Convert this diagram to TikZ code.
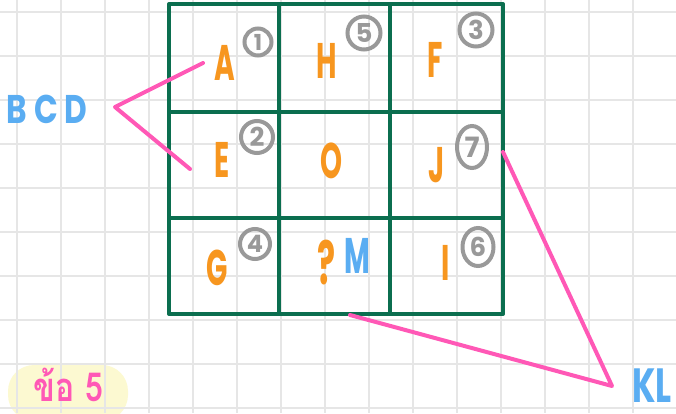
\documentclass[tikz,border=0pt]{standalone}
\usepackage{fontspec}
\setmainfont{Poppins}
\newfontfamily\thaifont[Script=Thai]{Loma}
\usepackage{xcolor}
\usetikzlibrary{calc, shapes.geometric, positioning}

\definecolor{papergray}{HTML}{E6E6E6}
\definecolor{boardgreen}{HTML}{0B6E4F}
\definecolor{inkorange}{HTML}{F7961F}
\definecolor{inkblue}{HTML}{5AADF2}
\definecolor{inkpink}{HTML}{FF58B6}
\definecolor{ringgray}{HTML}{999999}
\definecolor{pillyellow}{HTML}{FAF39A}

\tikzset{
  letter/.style={text=inkorange, inner sep=0pt, xscale=0.56,
    font=\fontsize{50}{50}\selectfont\bfseries},
  bluelabel/.style={text=inkblue, inner sep=0pt,
    font=\fontsize{40}{40}\selectfont\bfseries},
  ring/.style={circle, draw=ringgray, line width=4pt, text=ringgray,
    inner sep=0pt, minimum size=31pt, font=\fontsize{26}{26}\selectfont\bfseries},
  pinkline/.style={draw=inkpink, line width=4pt, line cap=round, line join=round},
}

\begin{document}
\begin{tikzpicture}[x=1pt, y=-1pt]
    \useasboundingbox (0,0) rectangle (676,413);
    \fill[white] (0,0) rectangle (676,413);

    % 1. Label pill (under the paper lines)
    \fill[pillyellow, opacity=0.45, rounded corners=26pt] (8,365) rectangle (128,421);

    % 2. Squared paper
    \foreach \gx in {17,61,...,677} {
        \draw[papergray, line width=1.6pt] (\gx,0) -- (\gx,413);
    }
    \foreach \gy in {12,56,...,413} {
        \draw[papergray, line width=1.6pt] (0,\gy) -- (676,\gy);
    }
    \node[inner sep=0pt, xscale=0.8, text=inkpink,
          font=\thaifont\fontsize{40}{40}\selectfont\bfseries] (task) at (68,385) {ข้อ 5};

    % 3. The 3x3 board
    \draw[boardgreen, line width=4pt, line join=round] (169,4) rectangle (503,314);
    \draw[boardgreen, line width=4pt] (279,4) -- (279,314);
    \draw[boardgreen, line width=4pt] (390,4) -- (390,314);
    \draw[boardgreen, line width=4pt] (169,112) -- (503,112);
    \draw[boardgreen, line width=4pt] (169,218) -- (503,218);

    % 4. Letters in the cells
    \node[letter] (a) at (225,63) {A};
    \node[letter] (h) at (327,61) {H};
    \node[letter] (f) at (435,60) {F};
    \node[letter] (e) at (222,160) {E};
    \node[letter] (o) at (331,161) {O};
    \node[letter] (j) at (437,165) {J};
    \node[letter] (g) at (217,268) {G};
    \node[letter, font=\fontsize{60}{60}\selectfont\bfseries] (q) at (327,263) {?};
    \node[letter, text=inkblue] (m) at (357,256) {M};
    \node[letter] (i) at (446,263) {I};

    % 5. Circled numbers
    \node[ring, minimum size=27pt, font=\fontsize{22}{22}\selectfont\bfseries] (n1) at (258,42) {1};
    \node[ring, minimum size=33pt] (n5) at (364,33) {5};
    \node[ring, minimum size=33pt] (n3) at (476,30) {3};
    \node[ring, minimum size=32pt] (n2) at (257,137) {2};
    \node[ring, ellipse, minimum width=30pt, minimum height=42pt, font=\fontsize{28}{28}\selectfont\bfseries] (n7) at (472,147) {7};
    \node[ring, minimum size=30pt, font=\fontsize{24}{24}\selectfont\bfseries] (n4) at (255,244) {4};
    \node[ring, ellipse, minimum width=31pt, minimum height=38pt] (n6) at (478,247) {6};

    % 6. Outside labels
    \node[bluelabel, xscale=0.78] (bcd) at (47,109) {B C D};
    \node[bluelabel, xscale=0.7, font=\fontsize{48}{48}\selectfont\bfseries] (kl) at (652,386) {KL};

    % 7. Pink connectors
    \coordinate (bcdTop) at (203,63);
    \coordinate (bcdTip) at (115,107);
    \coordinate (bcdLow) at (190,169);
    \draw[pinkline] (bcdTop) -- (bcdTip) -- (bcdLow);
    \coordinate (klTop) at (503,152);
    \coordinate (klTip) at (612,386);
    \coordinate (klLow) at (350,315);
    \draw[pinkline] (klTop) -- (klTip) -- (klLow);
\end{tikzpicture}
\end{document}
